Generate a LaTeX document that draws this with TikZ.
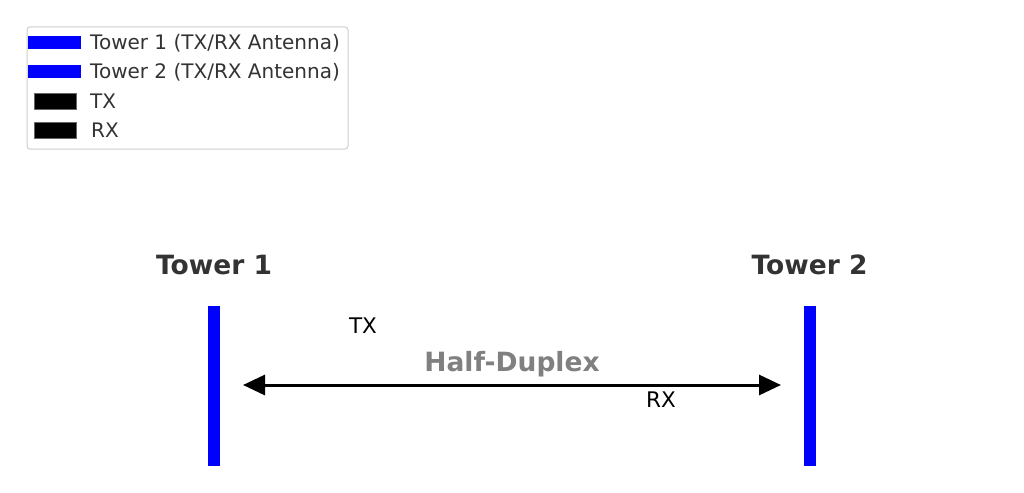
\documentclass[tikz,border=0pt]{standalone}
\usepackage{fontspec}
\setmainfont{DejaVu Sans}
\usetikzlibrary{arrows.meta}
\definecolor{txtgray}{HTML}{333333}
\definecolor{midgray}{HTML}{808080}
\definecolor{legframe}{HTML}{CCCCCC}
\definecolor{pureblue}{HTML}{0000FF}
\begin{document}
\begin{tikzpicture}[x=1pt,y=-1pt,
  towerbar/.style={fill=pureblue,draw=none,minimum width=12pt,minimum height=160pt,inner sep=0pt},
  towerlabel/.style={font=\fontsize{26.5}{31}\selectfont\bfseries,text=txtgray,inner sep=0pt},
  sigtext/.style={font=\fontsize{21.5}{25}\selectfont,text=black,inner sep=0pt},
  legtext/.style={font=\fontsize{20}{24}\selectfont,text=txtgray,anchor=west,inner sep=0pt},
  bluepatch/.style={fill=pureblue,draw=none,minimum width=53pt,minimum height=13pt,inner sep=0pt},
  blackpatch/.style={fill=black,draw=black!60,line width=0.5pt,minimum width=42pt,minimum height=16pt,inner sep=0pt},
  duplexarrow/.style={line width=3pt,{Triangle[length=22pt,width=20pt]}-{Triangle[length=22pt,width=20pt]}}
]
\useasboundingbox (0,0) rectangle (1024,492);
% legend
\node[draw=legframe,line width=1pt,rounded corners=3pt,minimum width=321pt,minimum height=122pt,inner sep=0pt] (legend) at (187.5,88) {};
\node[bluepatch] (lp1) at (54.5,42.5) {};
\node[bluepatch] (lp2) at (54.5,71.5) {};
\node[blackpatch] (lp3) at (55,101) {};
\node[blackpatch] (lp4) at (55,130) {};
\node[legtext] (lt1) at (90,43) {Tower 1 (TX/RX Antenna)};
\node[legtext] (lt2) at (90,72) {Tower 2 (TX/RX Antenna)};
\node[legtext] (lt3) at (90,101) {TX};
\node[legtext] (lt4) at (91,130) {RX};
% towers
\node[towerbar] (t1) at (214,386) {};
\node[towerbar] (t2) at (809.5,386) {};
\node[towerlabel] (t1l) at (214,265) {Tower 1};
\node[towerlabel] (t2l) at (809.5,265) {Tower 2};
% arrow
\coordinate (al) at (243,385);
\coordinate (ar) at (781,385);
\draw[duplexarrow] (al) -- (ar);
\node[towerlabel,text=midgray] (hd) at (512,364) {Half-Duplex};
\node[sigtext] (tx) at (363,326) {TX};
\node[sigtext] (rx) at (661,400) {RX};
\end{tikzpicture}
\end{document}
